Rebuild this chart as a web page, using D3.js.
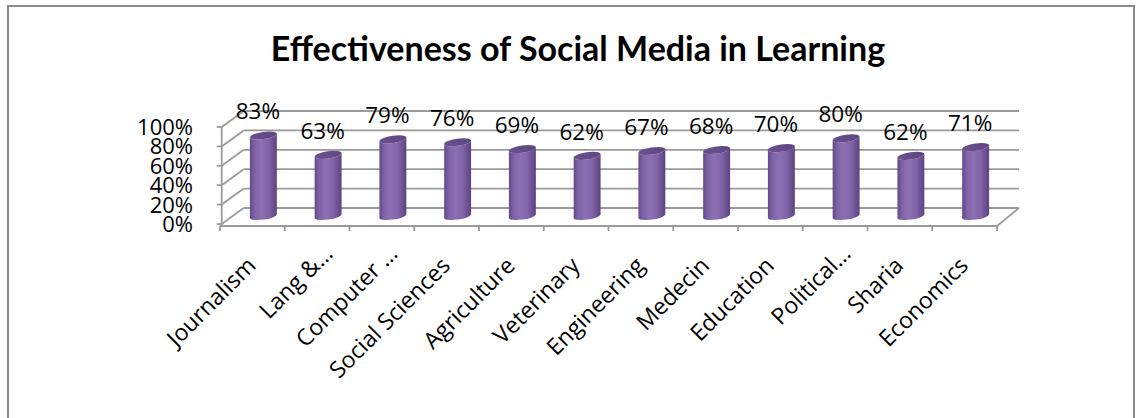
<!DOCTYPE html>
<html>
<head>
<meta charset="utf-8">
<script src="https://cdn.jsdelivr.net/npm/d3@7"></script>
<style>
  html, body { margin: 0; padding: 0; background: #fff; }
  svg { display: block; }
  text { font-family: "Open Sans", Lato, sans-serif; fill: #000; }
  text.title { font-family: Lato, "Open Sans", sans-serif; }
</style>
</head>
<body>
<svg id="chart" width="1143" height="418"></svg>
<script>
// Faculty categories (as shown on the axis) and their effectiveness share
const categories = ["Journalism", "Lang &…", "Computer …", "Social Sciences", "Agriculture",
  "Veterinary", "Engineering", "Medecin", "Education", "Political…", "Sharia", "Economics"];
const values = [0.83, 0.63, 0.79, 0.76, 0.69, 0.62, 0.67, 0.68, 0.70, 0.80, 0.62, 0.71];
const yTicks = [0, 0.2, 0.4, 0.6, 0.8, 1.0];
const title = "Effectiveness of Social Media in Learning";

const svg = d3.select("#chart");
const W = 1143, H = 418;

// chart area border
svg.append("rect")
  .attr("x", 8).attr("y", 6).attr("width", 1126).attr("height", H + 10)
  .attr("fill", "#fff").attr("stroke", "#8a8a8a").attr("stroke-width", 2);

// oblique 3D frame: front plane + depth offset
const depthX = 22, depthY = -16;
const x = d3.scaleBand().domain(categories).range([220, 997]).paddingInner(0).paddingOuter(0);
const yFront = d3.scaleLinear().domain([0, 1]).range([224, 127]);
const yBack = v => yFront(v) + depthY;
const yMid = v => yFront(v) + depthY / 2;
const floorY = 226;
const axisX = 221.7;
const gridColor = "#9a9a9a";

const grid = svg.append("g").attr("fill", "none").attr("stroke", gridColor).attr("stroke-width", 1.8);

// back wall horizontal gridlines
grid.selectAll("line.back").data(yTicks).join("line")
  .attr("class", "back")
  .attr("x1", axisX + depthX).attr("x2", x.range()[1] + depthX)
  .attr("y1", d => yBack(d)).attr("y2", d => yBack(d));

// side wall diagonals
grid.selectAll("line.side").data(yTicks).join("line")
  .attr("class", "side")
  .attr("x1", axisX).attr("y1", d => yFront(d))
  .attr("x2", axisX + depthX).attr("y2", d => yBack(d));

// floor: front edge (category axis), right edge
grid.append("line")
  .attr("x1", x.range()[0]).attr("x2", x.range()[1])
  .attr("y1", floorY).attr("y2", floorY);
grid.append("line")
  .attr("x1", x.range()[1]).attr("y1", floorY)
  .attr("x2", x.range()[1] + depthX).attr("y2", yBack(0));

// value axis line and ticks
grid.append("line")
  .attr("x1", axisX).attr("x2", axisX)
  .attr("y1", yFront(1)).attr("y2", floorY);
grid.selectAll("line.ytick").data(yTicks).join("line")
  .attr("class", "ytick")
  .attr("x1", axisX - 5).attr("x2", axisX)
  .attr("y1", d => yFront(d)).attr("y2", d => yFront(d));

// category ticks at band edges
const edges = categories.map(c => x(c)).concat([x.range()[1]]);
grid.selectAll("line.xtick").data(edges).join("line")
  .attr("class", "xtick")
  .attr("x1", d => d).attr("x2", d => d)
  .attr("y1", floorY).attr("y2", floorY + 5);

// value axis labels
svg.append("g").selectAll("text").data(yTicks).join("text")
  .attr("x", 193).attr("y", d => yFront(d) + 8)
  .attr("text-anchor", "end")
  .attr("font-size", 22)
  .text(d => d3.format(".0%")(d));

// cylinder shading
const defs = svg.append("defs");
const grad = defs.append("linearGradient").attr("id", "cyl").attr("x1", "0").attr("x2", "1").attr("y1", "0").attr("y2", "0");
[[0, "#644a88"], [0.18, "#7f63a6"], [0.42, "#8b70b3"], [0.7, "#7f63a6"], [1, "#5c4380"]]
  .forEach(([o, c]) => grad.append("stop").attr("offset", o).attr("stop-color", c));
const topGrad = defs.append("linearGradient").attr("id", "cylTop").attr("x1", "0").attr("x2", "1").attr("y1", "0").attr("y2", "0");
[[0, "#6a5090"], [1, "#5f4683"]]
  .forEach(([o, c]) => topGrad.append("stop").attr("offset", o).attr("stop-color", c));

const bw = x.bandwidth() * 0.42;
const rx = bw / 2, ry = 3.6, tilt = -8;
const tx = rx * Math.cos(tilt * Math.PI / 180), ty = -rx * Math.sin(tilt * Math.PI / 180);
const cxOf = c => x(c) + x.bandwidth() / 2 + depthX / 2;

const bars = svg.append("g").selectAll("g").data(categories).join("g");
bars.append("path")
  .attr("fill", "url(#cyl)")
  .attr("d", (c, i) => {
    const cx = cxOf(c), yt = yMid(values[i]), yb = yMid(0);
    return `M${cx - tx},${yt + ty} L${cx - tx},${yb + ty} ` +
      `A${rx},${ry} ${tilt} 0 0 ${cx + tx},${yb - ty} ` +
      `L${cx + tx},${yt - ty} A${rx},${ry} ${tilt} 0 1 ${cx - tx},${yt + ty} Z`;
  });
bars.append("ellipse")
  .attr("fill", "url(#cylTop)")
  .attr("rx", rx).attr("ry", ry)
  .attr("transform", (c, i) => `translate(${cxOf(c)},${yMid(values[i])}) rotate(${tilt})`);

// data labels above each cylinder
svg.append("g").selectAll("text").data(categories).join("text")
  .attr("x", c => x(c) + x.bandwidth() / 2 + 5.5)
  .attr("y", (c, i) => yMid(values[i]) - 16)
  .attr("text-anchor", "middle")
  .attr("font-size", 22.5)
  .text((c, i) => d3.format(".0%")(values[i]));

// rotated category labels
svg.append("g").selectAll("text").data(categories).join("text")
  .attr("text-anchor", "end")
  .attr("font-size", 23)
  .attr("transform", c => {
    const extra = c.endsWith("…") ? 12 : 0;
    return `translate(${x(c) + x.bandwidth() / 2 + 5 + extra},${267 - extra}) rotate(-45)`;
  })
  .text(c => c);

// title
svg.append("text")
  .attr("class", "title")
  .attr("x", 578).attr("y", 61)
  .attr("text-anchor", "middle")
  .attr("font-size", 34)
  .attr("font-weight", "bold")
  .text(title);
</script>
</body>
</html>
